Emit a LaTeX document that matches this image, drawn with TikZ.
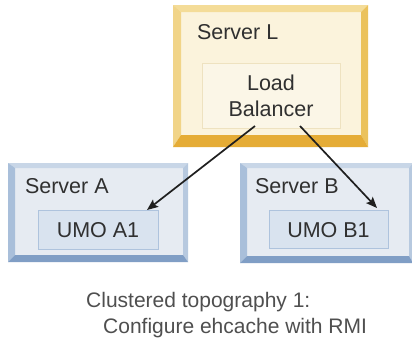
\documentclass[tikz,border=0pt]{standalone}
\usepackage{fontspec}
\setmainfont{Liberation Sans}
\usetikzlibrary{calc,arrows.meta}
\definecolor{lfill}{HTML}{FBF3DC}
\definecolor{ltop}{HTML}{F4DC98}
\definecolor{lleft}{HTML}{F1D488}
\definecolor{lright}{HTML}{EBC25C}
\definecolor{lbot}{HTML}{E5AC36}
\definecolor{lbfill}{HTML}{FBF6E7}
\definecolor{lbdraw}{HTML}{EEE2C0}
\definecolor{bfill}{HTML}{E6EBF2}
\definecolor{btop}{HTML}{C8D6E7}
\definecolor{bleft}{HTML}{A9BFDA}
\definecolor{bright}{HTML}{B7C9DF}
\definecolor{bbot}{HTML}{809EC5}
\definecolor{ufill}{HTML}{D9E3EF}
\definecolor{udraw}{HTML}{AEC3DD}
\definecolor{txt}{HTML}{303030}
\newcommand\bevelframe[9]{%
  \fill[#6] (#1.north west) -- (#1.north east) -- ($(#1.north east)+(-#4,#3)$) -- ($(#1.north west)+(#2,#3)$) -- cycle;
  \fill[#7] (#1.north west) -- ($(#1.north west)+(#2,#3)$) -- ($(#1.south west)+(#2,-#5)$) -- (#1.south west) -- cycle;
  \fill[#8] (#1.north east) -- ($(#1.north east)+(-#4,#3)$) -- ($(#1.south east)+(-#4,-#5)$) -- (#1.south east) -- cycle;
  \fill[#9] (#1.south west) -- ($(#1.south west)+(#2,-#5)$) -- ($(#1.south east)+(-#4,-#5)$) -- (#1.south east) -- cycle;
}
\tikzset{
  srv/.style={rectangle, outer sep=0pt, inner sep=0pt},
  inbox/.style={rectangle, outer sep=0pt, inner sep=0pt, line width=0.8pt},
  lbl/.style={font=\fontsize{21.5}{26}\selectfont, text=txt, inner sep=0pt, outer sep=0pt},
  captxt/.style={font=\fontsize{21}{26}\selectfont, text=txt!85!white, inner sep=0pt, anchor=base west},
  arr/.style={line width=1.7pt, draw=black!88, -{Stealth[length=11pt,width=9pt,inset=2pt]}}
}
\begin{document}
\begin{tikzpicture}[x=1pt,y=-1pt]
\useasboundingbox[fill=white] (0,0) rectangle (412,341);
% Server L
\node[srv, fill=lfill, minimum width=195pt, minimum height=142pt] (srvL) at (270.5,76) {};
\bevelframe{srvL}{8}{7}{7}{12}{ltop}{lleft}{lright}{lbot}
\node[inbox, fill=lbfill, draw=lbdraw, minimum width=138pt, minimum height=65pt] (lb) at (271,95.5) {};
\node[lbl, anchor=base west] (tL) at (197,39) {Server L};
\node[lbl, align=center] (tLB) at (271,96) {Load\\Balancer};
% Server A
\node[srv, fill=bfill, minimum width=180pt, minimum height=99pt] (srvA) at (98,212.5) {};
\bevelframe{srvA}{7}{5}{5}{7}{btop}{bleft}{bright}{bbot}
\node[inbox, fill=ufill, draw=udraw, minimum width=120pt, minimum height=39pt] (umoA) at (98,229.5) {};
\node[lbl, anchor=base west] (tA) at (25,193) {Server A};
\node[lbl] (tUA) at (98,230) {UMO A1};
% Server B
\node[srv, fill=bfill, minimum width=173pt, minimum height=100pt] (srvB) at (326.5,213) {};
\bevelframe{srvB}{7}{5}{4}{7}{btop}{bleft}{bright}{bbot}
\node[inbox, fill=ufill, draw=udraw, minimum width=119pt, minimum height=38pt] (umoB) at (328.5,229) {};
\node[lbl, anchor=base west] (tB) at (255,193) {Server B};
\node[lbl] (tUB) at (328.5,230) {UMO B1};
% arrows
\draw[arr] ($(lb.south)+(-16,-2)$) -- ($(umoA.north east)+(-11,0)$);
\draw[arr] ($(lb.south)+(29,-2)$) -- ($(umoB.north east)+(-11,-2)$);
% caption
\node[captxt] (c1) at (86,307) {Clustered topography 1:};
\node[captxt] (c2) at (103,333) {Configure ehcache with RMI};
\end{tikzpicture}
\end{document}
